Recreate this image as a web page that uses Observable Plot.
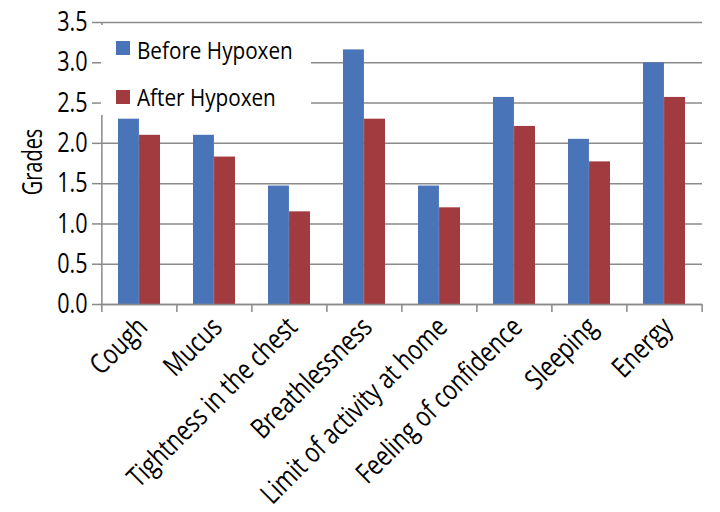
<!DOCTYPE html>
<html>
<head>
<meta charset="utf-8">
<script src="https://cdn.jsdelivr.net/npm/d3@7"></script>
<script src="https://cdn.jsdelivr.net/npm/@observablehq/plot@0.6"></script>
<style>
  html, body { margin: 0; padding: 0; background: #fff; }
  #wrap { position: relative; width: 720px; height: 512px; font-family: "Open Sans", "Noto Sans", sans-serif; }
  #legend { position: absolute; left: 101px; top: 25px; width: 210px; height: 90px; background: #fff; }
  .item { position: absolute; left: 15px; height: 24px; display: flex; align-items: center; font-size: 23px; line-height: 24px; color: #000; white-space: nowrap; }
  .sw { width: 14px; height: 14px; margin-right: 7px; flex: none; }
  .lt { display: inline-block; position: relative; transform: scaleX(0.9); transform-origin: left center; }
</style>
</head>
<body>
<div id="wrap"></div>
<script>
const categories = ["Cough", "Mucus", "Tightness in the chest", "Breathlessness", "Limit of activity at home", "Feeling of confidence", "Sleeping", "Energy"];
const seriesNames = ["Before Hypoxen", "After Hypoxen"];
const beforeValues = [2.30, 2.10, 1.47, 3.16, 1.47, 2.57, 2.05, 3.00];
const afterValues = [2.10, 1.83, 1.15, 2.30, 1.20, 2.21, 1.77, 2.57];
const yTicks = [0, 0.5, 1.0, 1.5, 2.0, 2.5, 3.0, 3.5];
const yLabel = "Grades";
const colors = ["#4a74b8", "#a23b3f"];

const W = 720, H = 512, mL = 100, mR = 18, mT = 22, mB = 208;
const step = (W - mL - mR) / categories.length;
const bw = step * 0.56;

const before = categories.map((c, i) => ({category: c, value: beforeValues[i]}));
const after = categories.map((c, i) => ({category: c, value: afterValues[i]}));
const fontFamily = '"Open Sans", "Noto Sans", sans-serif';
const grid = "#8a8a8a";

const chart = Plot.plot({
  width: W, height: H,
  marginLeft: mL, marginRight: mR, marginTop: mT, marginBottom: mB,
  style: {fontFamily, background: "#fff", color: "#000"},
  x: {domain: categories, paddingInner: 0.44, paddingOuter: 0.22, label: null},
  y: {domain: [0, 3.5], label: null},
  marks: [
    Plot.gridY(yTicks, {stroke: grid, strokeOpacity: 1, strokeWidth: 1.5}),
    Plot.barY(before, {x: "category", y: "value", fill: colors[0], insetRight: bw / 2}),
    Plot.barY(after, {x: "category", y: "value", fill: colors[1], insetLeft: bw / 2}),
    Plot.ruleY([0], {stroke: grid, strokeWidth: 1.5}),
    Plot.ruleX([categories[0]], {x: d => d, dx: -step / 2, y1: 0, y2: 3.5, stroke: grid, strokeWidth: 1.5}),
    Plot.ruleX(categories, {x: d => d, dx: -step / 2, y1: 0, y2: -0.1, stroke: grid, strokeWidth: 1.5}),
    Plot.ruleX([categories[categories.length - 1]], {x: d => d, dx: step / 2, y1: 0, y2: -0.1, stroke: grid, strokeWidth: 1.5}),
    Plot.axisY(yTicks, {tickSize: 8, tickPadding: 5, tickFormat: d3.format(".1f"), fontSize: 27, stroke: grid, strokeWidth: 1.5, fill: "#000", label: null}),
    Plot.axisX({tickSize: 0, tickPadding: 18, tickRotate: -45, fontSize: 28, fill: "#000", label: null, dx: 3}),
    Plot.text([yLabel], {text: d => d, frameAnchor: "left", textAnchor: "middle", dx: -67, dy: -1.5, rotate: -90, fontSize: 27, fill: "#000"})
  ]
});

// condense text along its baseline (the reference uses a condensed face)
function condense(sel, s) {
  chart.querySelectorAll(sel).forEach(t => {
    const tr = t.getAttribute("transform") || "";
    const xa = t.getAttribute("x");
    let pre = "";
    if (xa != null && xa !== "" && !isNaN(+xa) && +xa !== 0) {
      pre = ` translate(${+xa},0)`;
      t.removeAttribute("x");
    }
    t.setAttribute("transform", `${tr}${pre} scale(${s},1)`);
  });
}
condense('g[aria-label="y-axis tick label"] text', 0.80);
condense('g[aria-label="x-axis tick label"] text', 0.80);
condense('g[aria-label="text"] text', 0.74);

const wrap = document.getElementById("wrap");
wrap.appendChild(chart);
const legend = document.createElement("div");
legend.id = "legend";
seriesNames.forEach((name, i) => {
  const item = document.createElement("div");
  item.className = "item";
  item.style.top = (i === 0 ? 11 : 60) + "px";
  const sw = document.createElement("span");
  sw.className = "sw";
  sw.style.background = colors[i];
  const t = document.createElement("span");
  t.className = "lt";
  t.style.top = (i === 0 ? 2 : 0) + "px";
  t.textContent = name;
  item.appendChild(sw);
  item.appendChild(t);
  legend.appendChild(item);
});
wrap.appendChild(legend);
</script>
</body>
</html>
